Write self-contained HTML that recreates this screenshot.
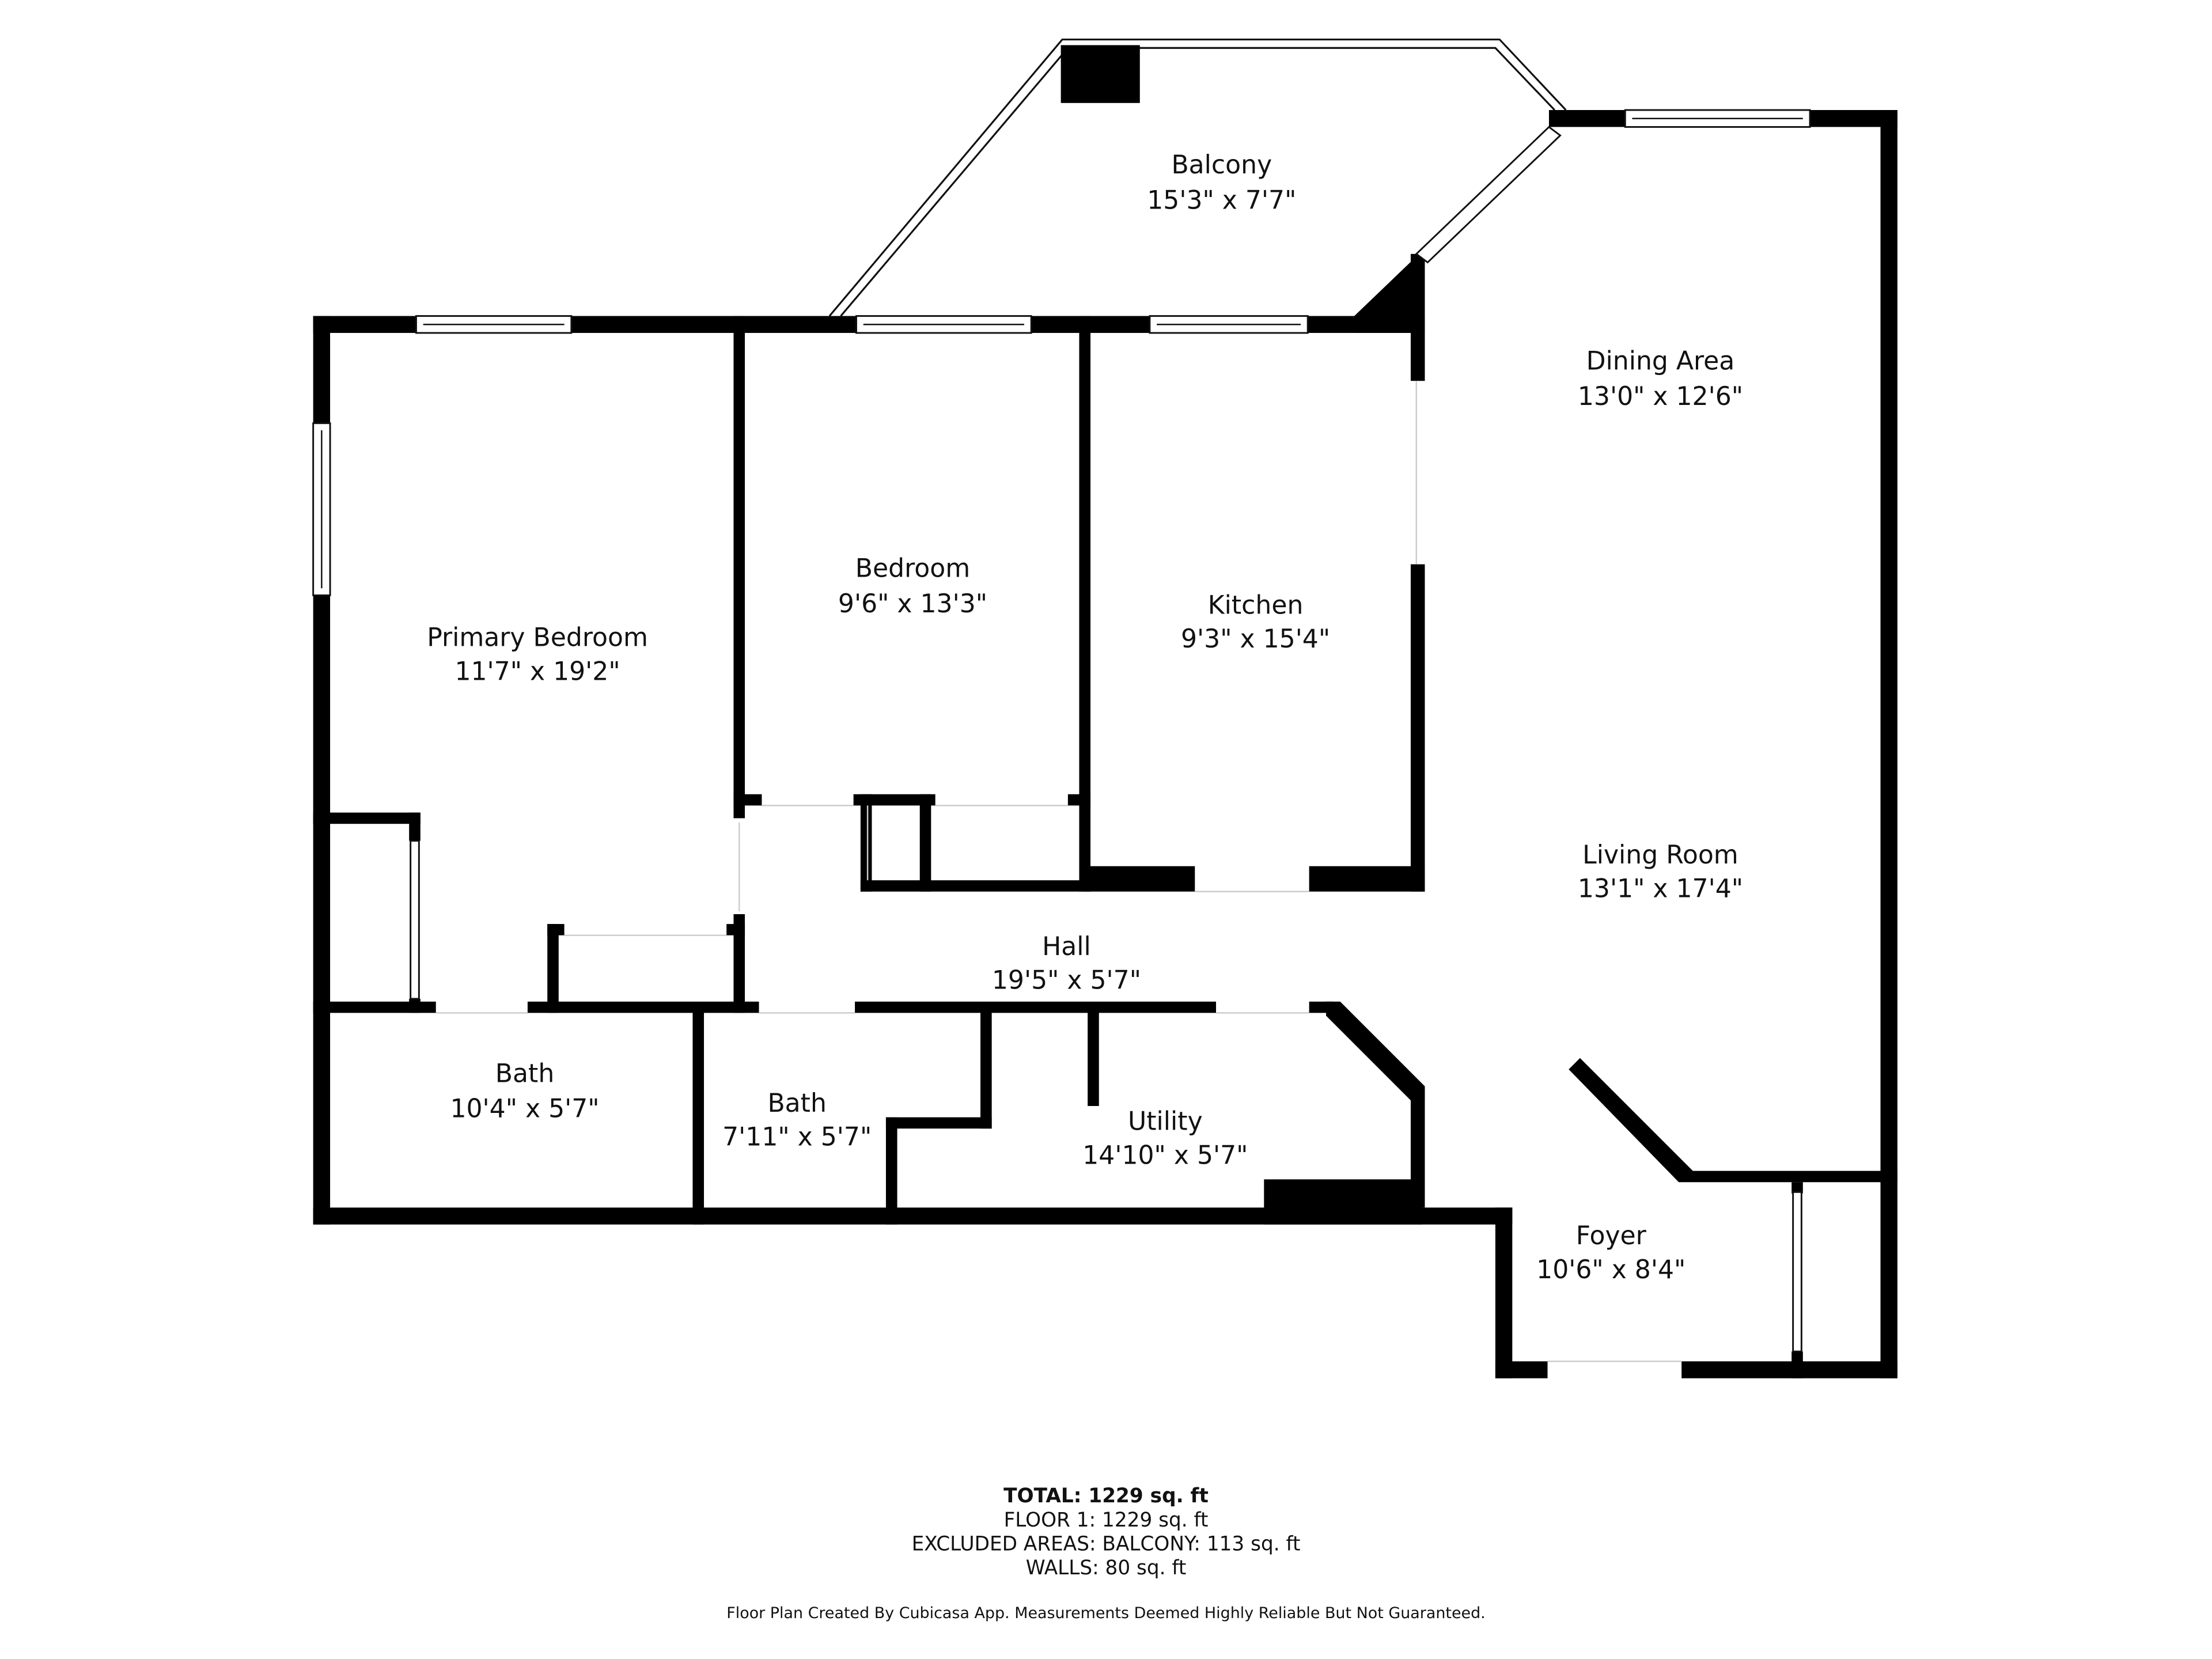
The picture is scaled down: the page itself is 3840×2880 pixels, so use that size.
<!DOCTYPE html>
<html><head><meta charset="utf-8"><style>
html,body{margin:0;padding:0;background:#fff;}
svg{display:block}
text{font-family:"DejaVu Sans","Liberation Sans",sans-serif;fill:#111;text-anchor:middle}
</style></head><body>
<svg width="3840" height="2880" viewBox="0 0 1568 1176" xmlns="http://www.w3.org/2000/svg">
<rect width="1568" height="1176" fill="#fff"/>
<g fill="none" stroke="#111" stroke-width="1.3">
<polyline points="588,224 753,28 1063,28 1110,78"/>
<polyline points="596,224 757,34 1060,34 1102,78"/>
</g>
<rect x="752" y="32" width="56" height="41" fill="#000"/>
<g fill="#000">
<rect x="222" y="224" width="788" height="12"/>
<rect x="222" y="224" width="12" height="644"/>
<rect x="222" y="856" width="850" height="12"/>
<rect x="1060" y="856" width="12" height="121"/>
<rect x="1060" y="965" width="37" height="12"/>
<rect x="1192" y="965" width="153" height="12"/>
<rect x="1333" y="78" width="12" height="899"/>
<rect x="1098" y="78" width="247" height="12"/>
<polygon points="960,224 1008,178 1010,236 960,236"/>
<rect x="1000" y="180" width="10" height="90"/>
<rect x="1000" y="400" width="10" height="232"/>
<rect x="770" y="614" width="77" height="18"/>
<rect x="928" y="614" width="82" height="18"/>
<rect x="765" y="224" width="8" height="408"/>
<rect x="520" y="224" width="8" height="356"/>
<rect x="520" y="648" width="8" height="70"/>
<rect x="520" y="563" width="20" height="8"/>
<rect x="605" y="563" width="58" height="8"/>
<rect x="757" y="563" width="16" height="8"/>
<rect x="610" y="563" width="8" height="69"/>
<rect x="652" y="563" width="8" height="69"/>
<rect x="610" y="624" width="163" height="8"/>
<rect x="222" y="710" width="87" height="8"/>
<rect x="374" y="710" width="164" height="8"/>
<rect x="606" y="710" width="256" height="8"/>
<rect x="928" y="710" width="17" height="8"/>
<polygon points="940,710 950,710 1010,770 1010,780 1000,780 940,720"/>
<rect x="1000" y="772" width="10" height="84"/>
<rect x="491" y="714" width="8" height="154"/>
<rect x="695" y="714" width="8" height="86"/>
<rect x="628" y="792" width="75" height="8"/>
<rect x="628" y="792" width="8" height="76"/>
<rect x="771" y="714" width="8" height="70"/>
<rect x="896" y="836" width="112" height="32"/>
<polygon points="1112,758 1120,750 1200,830 1190,838"/>
<rect x="1190" y="830" width="155" height="8"/>
<rect x="1270" y="838" width="8" height="8"/>
<rect x="1270" y="958" width="8" height="19"/>
<rect x="222" y="576" width="76" height="8"/>
<rect x="290" y="576" width="8" height="20"/>
<rect x="290" y="708" width="8" height="10"/>
<rect x="388" y="655" width="8" height="63"/>
<rect x="388" y="655" width="12" height="8"/>
<rect x="515" y="655" width="13" height="8"/>
</g>
<g fill="#fff" stroke="#111" stroke-width="1.2">
<rect x="295" y="224" width="110" height="12"/>
<rect x="607" y="224" width="124" height="12"/>
<rect x="815" y="224" width="112" height="12"/>
<rect x="1152" y="78" width="131" height="12"/>
<rect x="222" y="300" width="12" height="122"/>
<rect x="1271" y="845" width="6" height="113"/>
<rect x="291" y="596" width="6" height="112"/>
</g>
<g stroke="#111" stroke-width="1">
<line x1="300" y1="230" x2="400" y2="230"/><line x1="612" y1="230" x2="726" y2="230"/>
<line x1="820" y1="230" x2="922" y2="230"/><line x1="1157" y1="84" x2="1278" y2="84"/>
<line x1="228" y1="305" x2="228" y2="417"/>
</g>
<polygon points="1098,90 1106,96 1012,186 1004,180" fill="#fff" stroke="#111" stroke-width="1.2"/>
<g stroke="#ccc" stroke-width="1">
<line x1="1004" y1="270" x2="1004" y2="400"/><line x1="400" y1="663" x2="515" y2="663"/>
<line x1="540" y1="571" x2="605" y2="571"/><line x1="663" y1="571" x2="757" y2="571"/>
<line x1="847" y1="632" x2="928" y2="632"/><line x1="309" y1="718" x2="374" y2="718"/>
<line x1="538" y1="718" x2="606" y2="718"/><line x1="862" y1="718" x2="928" y2="718"/>
<line x1="1097" y1="965" x2="1192" y2="965"/><line x1="524" y1="583" x2="524" y2="646"/>
<line x1="615" y1="571" x2="615" y2="624"/>
</g>
<g font-size="18">
<text x="866" y="123">Balcony</text><text x="866" y="148">15'3" x 7'7"</text>
<text x="1177" y="262">Dining Area</text><text x="1177" y="287">13'0" x 12'6"</text>
<text x="647" y="409">Bedroom</text><text x="647" y="434">9'6" x 13'3"</text>
<text x="890" y="435">Kitchen</text><text x="890" y="459">9'3" x 15'4"</text>
<text x="381" y="458">Primary Bedroom</text><text x="381" y="482">11'7" x 19'2"</text>
<text x="1177" y="612">Living Room</text><text x="1177" y="636">13'1" x 17'4"</text>
<text x="756" y="677">Hall</text><text x="756" y="701">19'5" x 5'7"</text>
<text x="372" y="767">Bath</text><text x="372" y="792">10'4" x 5'7"</text>
<text x="565" y="788">Bath</text><text x="565" y="812">7'11" x 5'7"</text>
<text x="826" y="801">Utility</text><text x="826" y="825">14'10" x 5'7"</text>
<text x="1142" y="882">Foyer</text><text x="1142" y="906">10'6" x 8'4"</text>
</g>
<g font-size="14">
<text x="784" y="1065" font-weight="bold">TOTAL: 1229 sq. ft</text>
<text x="784" y="1082">FLOOR 1: 1229 sq. ft</text>
<text x="784" y="1099">EXCLUDED AREAS: BALCONY: 113 sq. ft</text>
<text x="784" y="1116">WALLS: 80 sq. ft</text>
</g>
<text x="784" y="1147" font-size="11">Floor Plan Created By Cubicasa App. Measurements Deemed Highly Reliable But Not Guaranteed.</text>
</svg>
</body></html>
